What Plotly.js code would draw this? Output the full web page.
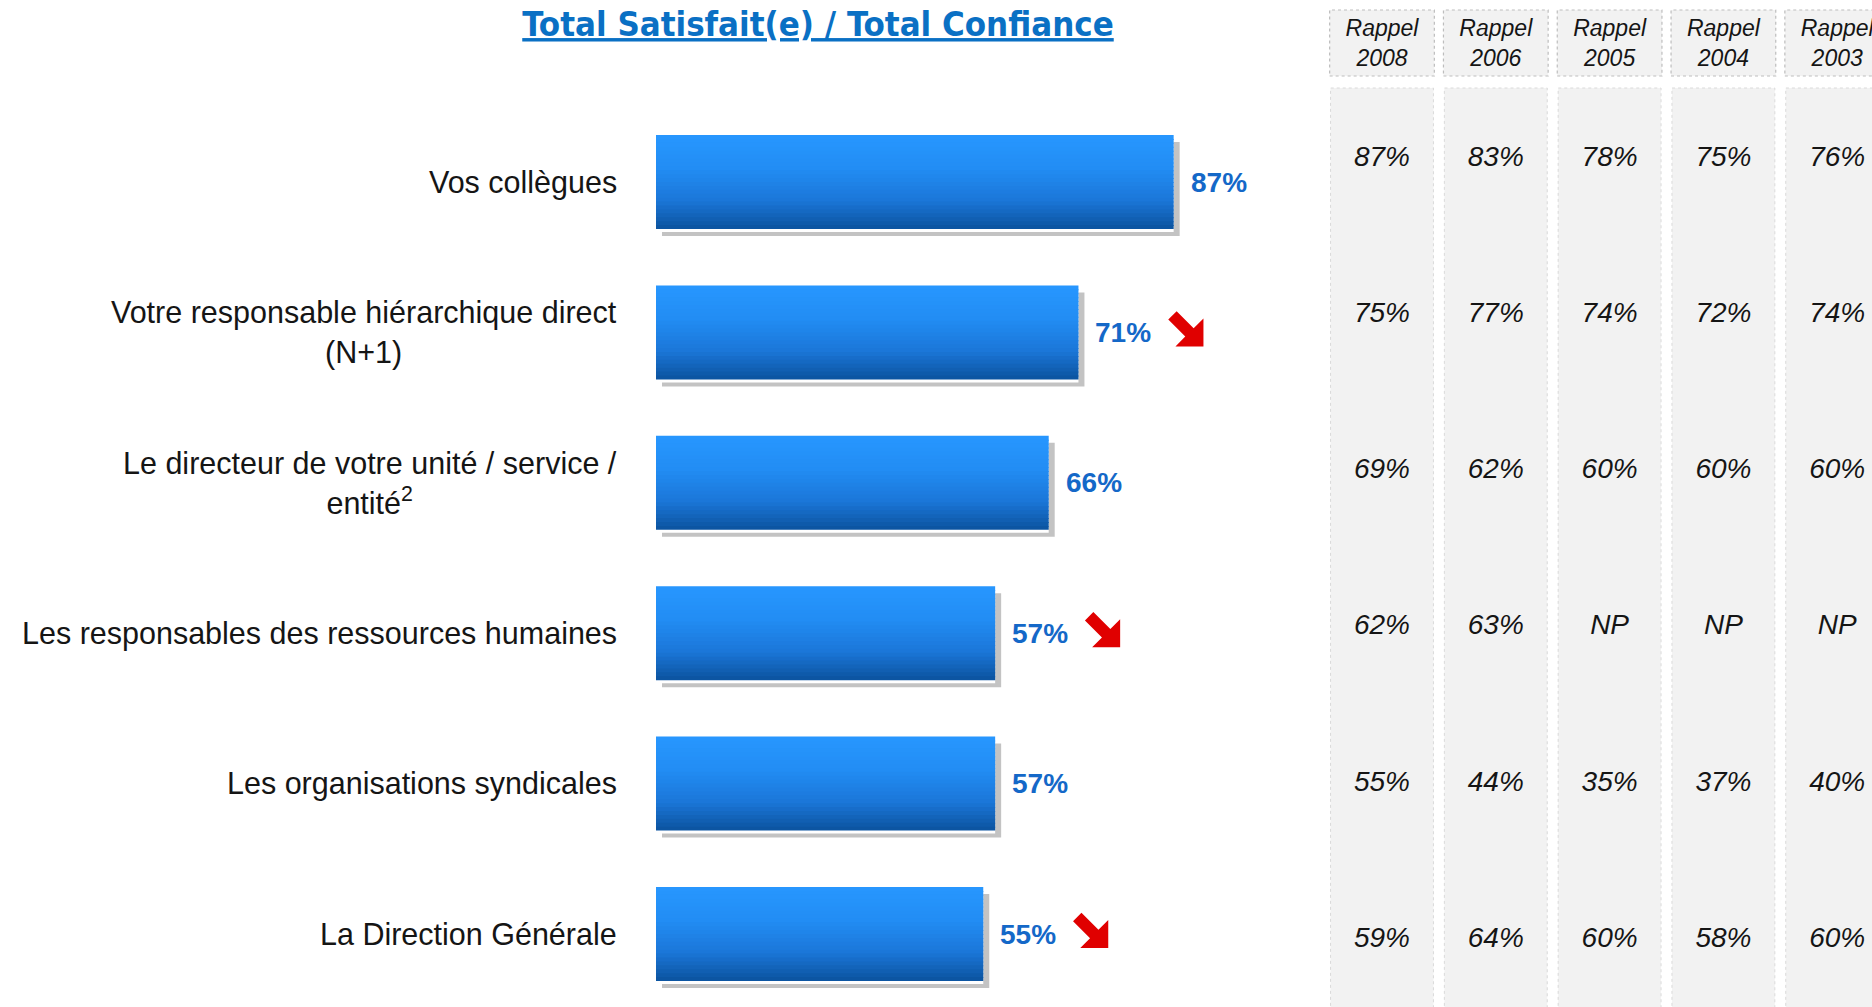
<!DOCTYPE html>
<html><head><meta charset="utf-8">
<script src="https://cdn.plot.ly/plotly-3.0.1.min.js"></script>
<style>html,body{margin:0;padding:0;background:#fff;} #chart{width:1872px;height:1007px;}</style>
</head><body><div id="chart"></div>
<script>
// ---------- DATA ----------
const categories = [
  "Vos collègues",
  "Votre responsable hiérarchique direct<br>(N+1)",
  "Le directeur de votre unité / service /<br>entité<sup>2</sup>",
  "Les responsables des ressources humaines",
  "Les organisations syndicales",
  "La Direction Générale"
];
const values = [87, 71, 66, 57, 57, 55];
const trend = ["", "down", "", "down", "", "down"];
const recallYears = ["2008", "2006", "2005", "2004", "2003"];
const recall2008 = ["87%", "75%", "69%", "62%", "55%", "59%"];
const recall2006 = ["83%", "77%", "62%", "63%", "44%", "64%"];
const recall2005 = ["78%", "74%", "60%", "NP", "35%", "60%"];
const recall2004 = ["75%", "72%", "60%", "NP", "37%", "58%"];
const recall2003 = ["76%", "74%", "60%", "NP", "40%", "60%"];
const recallCols = [recall2008, recall2006, recall2005, recall2004, recall2003];

// ---------- LAYOUT CONSTANTS ----------
const W = 1872, H = 1007;
const x0px = 656, pxPerPct = 5.95, xEndPx = 1300;
const rowPx0 = 182, rowPitch = 150.4;
const barW = 94 / rowPitch;
const tColPx0 = 1382, tColPitch = 113.8;
const tRowPx0 = 158.5, tRowPitch = 156.3, tTopPx = 88;

const rows = categories.map((_, i) => i);
const traces = [];

// shadow
traces.push({
  type: 'bar', orientation: 'h', x: values, y: rows,
  base: 6 / pxPerPct, width: barW, offset: -barW / 2 + 7 / rowPitch,
  marker: { color: '#c3c3c3', line: { width: 0 } },
  hoverinfo: 'skip', showlegend: false
});
// white edge
traces.push({
  type: 'bar', orientation: 'h', x: values, y: rows,
  base: 0, width: barW + 3 / rowPitch, offset: -barW / 2,
  marker: { color: '#ffffff', line: { width: 0 } },
  hoverinfo: 'skip', showlegend: false
});
// gradient slices
const stops = [[0, [39, 151, 255]], [0.35, [34, 141, 244]], [0.7, [27, 118, 216]], [1, [11, 82, 158]]];
function gradColor(t) {
  for (let j = 0; j < stops.length - 1; j++) {
    const [a, ca] = stops[j], [b, cb] = stops[j + 1];
    if (t <= b) {
      const f = (t - a) / (b - a);
      const c = ca.map((v, k) => Math.round(v + (cb[k] - v) * f));
      return 'rgb(' + c.join(',') + ')';
    }
  }
  return 'rgb(' + stops[stops.length - 1][1].join(',') + ')';
}
const N = 24;
for (let k = 0; k < N; k++) {
  traces.push({
    type: 'bar', orientation: 'h', x: values, y: rows,
    base: 0, width: (k === N - 1 ? 1 : 1.25) * barW / N, offset: -barW / 2 + k * barW / N,
    marker: { color: gradColor((k + 0.5) / N), line: { width: 0 } },
    hoverinfo: 'skip', showlegend: false
  });
}

// table values
const tx = [], ty = [], tt = [];
recallCols.forEach((col, c) => col.forEach((v, r) => { tx.push(c); ty.push(r); tt.push(v); }));
traces.push({
  type: 'scatter', mode: 'text', x: tx, y: ty, text: tt,
  xaxis: 'x2', yaxis: 'y2',
  textfont: { family: '"Liberation Sans", Arial, sans-serif', size: 28, style: 'italic', color: '#151515' },
  hoverinfo: 'skip', showlegend: false
});

// ---------- ANNOTATIONS ----------
const annotations = [];
categories.forEach((c, i) => {
  annotations.push({
    text: c, xref: 'paper', x: 619 / W, xanchor: 'right', yref: 'y', y: i, yanchor: 'middle',
    align: 'center', showarrow: false,
    font: { family: '"Liberation Sans", Arial, sans-serif', size: 30.5, color: '#151515' }
  });
  annotations.push({
    text: values[i] + '%', xref: 'x', x: values[i], xanchor: 'left', xshift: 15,
    yref: 'y', y: i, yanchor: 'middle', showarrow: false,
    font: { family: '"Liberation Sans", Arial, sans-serif', size: 28, weight: 'bold', color: '#1468c8' }
  });
});

// ---------- SHAPES ----------
const shapes = [];
// arrow path (pixel coords relative to anchor, y up)
function arrowPath(cx, cy) {
  const h = 6, s = Math.SQRT1_2;
  const pts = [
    [-14 + h * s, -14 - h * s], [3 + h * s, 3 - h * s], [17, -11], [17, 17], [-11, 17],
    [3 - h * s, 3 + h * s], [-14 - h * s, -14 + h * s]
  ];
  return 'M' + pts.map(p => (cx + p[0]).toFixed(1) + ',' + (cy - p[1]).toFixed(1)).join(' L') + ' Z';
}
trend.forEach((t, i) => {
  if (t === 'down') {
    shapes.push({
      type: 'path', xref: 'x', yref: 'y', xsizemode: 'pixel', ysizemode: 'pixel',
      xanchor: values[i], yanchor: i, path: arrowPath(108, 3),
      fillcolor: '#e00000', line: { width: 0 }
    });
  }
});
// table columns and headers
recallYears.forEach((yr, c) => {
  shapes.push({
    type: 'rect', layer: 'below', xref: 'x2', yref: 'y2 domain',
    x0: c - 0.452, x1: c + 0.452, y0: -0.02, y1: 1,
    fillcolor: '#f2f2f2', line: { color: '#dadada', width: 1, dash: 'dot' }
  });
  shapes.push({
    type: 'rect', layer: 'below', xref: 'x2', yref: 'paper',
    x0: c - 0.46, x1: c + 0.46, y0: 1 - 76 / H, y1: 1 - 10 / H,
    fillcolor: '#f2f2f2', line: { color: '#bdbdbd', width: 1.2, dash: 'dot' }
  });
});

const layout = {
  width: W, height: H, margin: { l: 0, r: 0, t: 0, b: 0 },
  paper_bgcolor: '#ffffff', plot_bgcolor: 'rgba(0,0,0,0)',
  barmode: 'overlay', showlegend: false, hovermode: false,
  title: {
    text: 'Total Satisfait(e) / Total Confiance',
    x: 818 / W, xanchor: 'center', xref: 'paper', yref: 'container', y: 1 - 24 / H, yanchor: 'middle',
    font: { family: '"Liberation Sans Narrow", "DejaVu Sans Condensed", sans-serif', size: 34.5, weight: 'bold', color: '#0a70c4', lineposition: 'under' }
  },
  xaxis: {
    domain: [x0px / W, xEndPx / W], range: [0, (xEndPx - x0px) / pxPerPct],
    visible: false, fixedrange: true
  },
  yaxis: {
    domain: [0, 1], range: [(H - rowPx0) / rowPitch, -rowPx0 / rowPitch],
    visible: false, fixedrange: true
  },
  xaxis2: {
    domain: [0, 1], anchor: 'y2', side: 'top',
    range: [-tColPx0 / tColPitch, (W - tColPx0) / tColPitch],
    tickvals: recallYears.map((_, c) => c), ticktext: recallYears.map(y => 'Rappel<br>' + y),
    tickfont: { family: '"Liberation Sans", Arial, sans-serif', size: 23, style: 'italic', color: '#151515' },
    ticks: '', showgrid: false, zeroline: false, showline: false, ticklabelstandoff: 16,
    ticklabeloverflow: 'allow', fixedrange: true
  },
  yaxis2: {
    domain: [0, 1 - tTopPx / H], anchor: 'x2',
    range: [(H - tRowPx0) / tRowPitch, (tTopPx - tRowPx0) / tRowPitch],
    visible: false, fixedrange: true
  },
  annotations: annotations, shapes: shapes
};

Plotly.newPlot('chart', traces, layout, { staticPlot: true, displayModeBar: false });
</script></body></html>
